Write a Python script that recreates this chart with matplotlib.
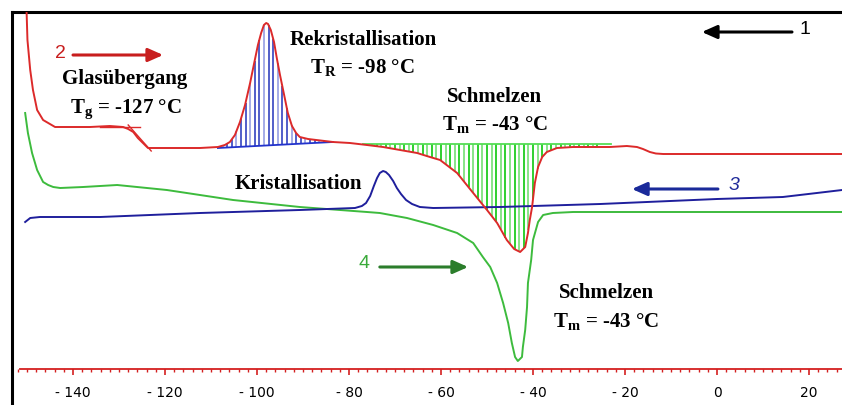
import numpy as np
import matplotlib
matplotlib.use("Agg")
import matplotlib.pyplot as plt
from matplotlib.ticker import MultipleLocator, FuncFormatter

plt.rcParams['mathtext.fontset'] = 'custom'
plt.rcParams['mathtext.rm'] = 'Liberation Serif:bold'
plt.rcParams['mathtext.bf'] = 'Liberation Serif:bold'

# DSC traces, temperature in degC, heat flow in arbitrary units
# curve 2 - heating after quench (red)
red_t = [-150.1, -149.9, -149.3, -148.7, -147.8, -146.5, -143.9, -136.3, -132.0, -129.1,
         -128.0, -126.9, -125.9, -124.8, -123.7, -121.1, -112.4, -108.5, -107.0, -105.9,
         -104.8, -103.7, -102.6, -101.5, -100.7, -99.8, -99.1, -98.5, -98.0, -97.6,
         -97.0, -96.3, -95.7, -95.0, -94.1, -93.3, -92.4, -91.5, -90.7, -88.9,
         -83.5, -79.8, -76.1, -72.6, -68.9, -65.2, -62.4, -60.2, -56.5, -53.0,
         -50.0, -47.8, -45.7, -44.1, -42.8, -41.7, -41.1, -40.7, -40.2, -39.6,
         -38.9, -38.0, -37.0, -34.8, -31.3, -23.3, -19.6, -17.4, -16.1, -14.6,
         -13.3, -11.7, 0.0, 27.2]
red_y = [395, 365, 335, 315, 295, 285, 278, 278, 279, 278,
         276, 273, 267, 262, 257, 257, 257, 258, 260, 263,
         270, 283, 300, 322, 340, 360, 372, 380, 382, 381,
         375, 363, 347, 330, 310, 292, 279, 272, 268, 266,
         263, 262, 260, 258, 255, 252, 248, 245, 232, 212,
         195, 182, 165, 156, 153, 158, 172, 185, 198, 222,
         238, 248, 253, 257, 258, 258, 259, 258, 256, 253,
         251.5, 251, 251, 251]

# curve 3 - cooling (blue)
blue_t = [-150.4, -149.3, -147.2, -134.1, -112.4, -90.7, -78.7, -77.2, -76.3, -75.4,
          -74.6, -73.9, -73.3, -72.6, -72.0, -71.3, -70.4, -69.6, -68.7, -67.6,
          -66.3, -64.6, -61.7, -47.2, -25.4, 0.0, 14.3, 21.7, 27.2]
blue_y = [183, 187, 188, 188, 192, 195, 197, 199, 202, 209,
          219, 227, 232, 234, 233, 230, 224, 217, 211, 205,
          201, 198, 197, 198, 201, 206, 208, 212, 215]

# curve 4 - heating after slow cooling (green)
green_t = [-150.4, -149.8, -148.9, -147.8, -146.5, -145.4, -144.3, -142.8, -137.8, -130.4,
           -119.6, -105.2, -90.7, -76.1, -73.3, -67.4, -61.7, -56.5, -53.0, -50.9,
           -49.3, -47.8, -46.5, -45.4, -44.6, -43.9, -43.3, -42.4, -42.2, -41.7,
           -41.3, -41.1, -40.4, -40.0, -38.9, -37.8, -35.7, -31.3, 27.2]
green_y = [292, 272, 252, 235, 223, 220, 218, 217, 218, 220,
           215, 205, 198, 193, 192, 187, 180, 172, 162, 148,
           138, 122, 102, 82, 62, 48, 44, 48, 58, 75,
           98, 122, 145, 165, 183, 190, 192, 193, 193]

# peak baselines (start/end temperature, level)
recryst_base_t = [-108.5, -83.5]
recryst_base_y = [257, 263]
melt_base_t = [-77.0, -23.0]
melt_base_y = [261, 261]

# glass transition construction lines
tg_plateau_t = [-134.1, -125.4]
tg_plateau_y = [278, 278]
tg_tangent_t = [-128.0, -123.0]
tg_tangent_y = [280, 254]

RED = '#dc2a2a'
BLUE = '#1f1f9c'
GREEN = '#3dbb3d'

fig = plt.figure(figsize=(8.42, 4.05), dpi=100)
ax = fig.add_axes([12 / 842, 0, 1 - 12 / 842, (405 - 12) / 405])
ax.set_xlim(-153.26, 27.17)
ax.set_ylim(0, 393)

# hatching of the peak areas
ht = np.arange(-107.5, -83.6, 1.0)
top = np.interp(ht, red_t, red_y)
base = np.interp(ht, recryst_base_t, recryst_base_y)
ok = top > base
cols = ['#2233bb' if i % 3 else '#8c96e0' for i in range(len(ht))]
ax.vlines(ht[ok], base[ok], top[ok], colors=np.array(cols)[ok], lw=1.1, zorder=2)

gt = np.arange(-75.0, -25.5, 1.0)
bot = np.interp(gt, red_t, red_y)
gbase = np.interp(gt, melt_base_t, melt_base_y)
ok = bot < gbase
gcols = ['#1fcc1f' if i % 2 else '#7fe27f' for i in range(len(gt))]
ax.vlines(gt[ok], bot[ok], gbase[ok], colors=np.array(gcols)[ok], lw=1.3, zorder=2)

ax.plot(recryst_base_t, recryst_base_y, color='#2233cc', lw=1.3, zorder=3)
ax.plot(melt_base_t, melt_base_y, color='#55dd55', lw=1.3, zorder=3)

ax.plot(tg_plateau_t, tg_plateau_y, color=RED, lw=1.0, zorder=3)
ax.plot(tg_tangent_t, tg_tangent_y, color=RED, lw=1.0, zorder=3)

ax.plot(green_t, green_y, color=GREEN, lw=1.4, zorder=4)
ax.plot(blue_t, blue_y, color=BLUE, lw=1.4, zorder=4)
ax.plot(red_t, red_y, color=RED, lw=1.4, zorder=5)

# frame and temperature axis
ax.spines['right'].set_visible(False)
ax.spines['left'].set_linewidth(2.2)
ax.spines['top'].set_linewidth(2.2)
ax.spines['left'].set_color('black')
ax.spines['top'].set_color('black')
ax.spines['bottom'].set_position(('data', 36))
ax.spines['bottom'].set_bounds(-151.5, 27.17)
ax.spines['bottom'].set_color('#d42020')
ax.spines['bottom'].set_linewidth(1.3)
ax.yaxis.set_visible(False)
ax.xaxis.set_major_locator(MultipleLocator(20))
ax.xaxis.set_minor_locator(MultipleLocator(2))
ax.xaxis.set_major_formatter(FuncFormatter(lambda v, p: '- %d' % abs(v) if v < 0 else '%d' % v))
ax.tick_params(axis='x', which='major', direction='out', length=4.5, width=1.2,
               color='#d42020', pad=8, labelsize=10)
ax.tick_params(axis='x', which='minor', direction='out', length=2.2, width=1.0, color='#d42020')
for lab in ax.get_xticklabels():
    lab.set_family(['Liberation Sans Narrow', 'DejaVu Sans'])

# annotations
serif = dict(family='Liberation Serif', weight='bold', fontsize=15, ha='center', va='baseline', color='black')
ax.text(-128.7, 321, 'Glasübergang', **serif)
ax.text(-128.5, 292, 'T$_\\mathrm{g}$ = -127 °C', **serif)
ax.text(-77.0, 360, 'Rekristallisation', **serif)
ax.text(-77.2, 332, 'T$_\\mathrm{R}$ = -98 °C', **serif)
ax.text(-48.3, 303, 'Schmelzen', **serif)
ax.text(-48.3, 275, 'T$_\\mathrm{m}$ = -43 °C', **serif)
ax.text(-91.1, 216, 'Kristallisation', **serif)
ax.text(-24.1, 107, 'Schmelzen', **serif)
ax.text(-24.1, 78, 'T$_\\mathrm{m}$ = -43 °C', **serif)

num = dict(family='Liberation Sans', fontsize=14, ha='center', va='center')
ax.text(-142.8, 352, '2', color='#c81e1e', **num)
ax.text(19.1, 375, '1', color='black', **num)
ax.text(3.7, 220, '3', color='#1f2a9a', style='italic', **num)
ax.text(-76.7, 142, '4', color='#3aaa3a', **num)

def arrow(x0, x1, y, c):
    ax.annotate('', xy=(x1, y), xytext=(x0, y),
                arrowprops=dict(arrowstyle='-|>,head_length=0.45,head_width=0.2',
                                lw=2.2, color=c, shrinkA=0, shrinkB=0, mutation_scale=20))

arrow(-140.0, -120.4, 350, '#c81e1e')
arrow(16.3, -3.3, 373, 'black')
arrow(0.2, -18.5, 216, '#1a2a9a')
arrow(-73.3, -54.1, 138, '#2b7d2b')

fig.savefig('out.png', dpi=100)
